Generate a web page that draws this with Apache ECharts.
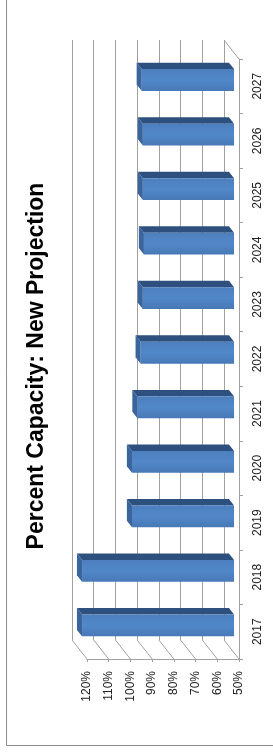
<!DOCTYPE html>
<html>
<head>
<meta charset="utf-8">
<script src="https://cdn.jsdelivr.net/npm/echarts@6/dist/echarts.min.js"></script>
<style>
  html, body { margin: 0; padding: 0; background: #fff; }
  #myChart { width: 273px; height: 752px; }
</style>
</head>
<body>
<div id="myChart"></div>
<script>
  // categories (bottom to top after rotation)
  const years = ['2017', '2018', '2019', '2020', '2021', '2022', '2023', '2024', '2025', '2026', '2027'];
  // percent capacity
  const capacity = [120, 120, 97, 97, 94.5, 93, 92, 91.5, 92, 92, 92.5];
  // value axis ticks
  const valueTicks = [50, 60, 70, 80, 90, 100, 110, 120];

  const titleText = 'Percent Capacity: New Projection';
  const FONT = 'Liberation Sans';
  // 3d depth vector, front -> back
  const DX = -15, DY = -19;

  const chart = echarts.init(document.getElementById('myChart'));

  function renderBar(params, api) {
    const v = api.value(0);
    const idx = api.value(1);
    const base = api.coord([valueTicks[0], idx]);
    const end = api.coord([v, idx]);
    const band = api.size([0, 1])[1];
    const h = band * 0.4;
    const f = 0.33, g = 0.67;
    const x0 = end[0] + DX * f, x1 = base[0] + DX * f;
    const y0 = base[1] - h / 2 + DY * f, y1 = base[1] + h / 2 + DY * f;
    const bx = DX * (g - f), by = DY * (g - f);
    return {
      type: 'group',
      children: [
        {
          type: 'polygon',
          shape: { points: [[x0, y0], [x1, y0], [x1 + bx, y0 + by], [x0 + bx, y0 + by]] },
          style: { fill: '#2e507e' }
        },
        {
          type: 'polygon',
          shape: { points: [[x0, y0], [x0 + bx, y0 + by], [x0 + bx, y1 + by], [x0, y1]] },
          style: { fill: '#3a649c' }
        },
        {
          type: 'rect',
          shape: { x: x0, y: y0, width: x1 - x0, height: y1 - y0 },
          style: {
            fill: new echarts.graphic.LinearGradient(0, 0, 0, 1, [
              { offset: 0, color: '#4d7fbe' },
              { offset: 0.5, color: '#5288c8' },
              { offset: 1, color: '#4878b6' }
            ])
          }
        }
      ]
    };
  }

  // side wall diagonals + floor top edge
  function renderFrame(params, api) {
    const v = api.value(0);
    const band = api.size([0, 1])[1];
    const p = api.coord([v, 0]);
    const yb = p[1] + band / 2;
    const lineStyle = { stroke: '#a0a0a0', lineWidth: 1 };
    const children = [{
      type: 'line',
      shape: { x1: p[0], y1: yb, x2: p[0] + DX, y2: yb + DY },
      style: lineStyle
    }];
    if (v === valueTicks[0]) {
      const q = api.coord([v, years.length - 1]);
      const yt = q[1] - band / 2;
      children.push({
        type: 'line',
        shape: { x1: q[0], y1: yt, x2: q[0] + DX, y2: yt + DY },
        style: lineStyle
      });
    }
    return { type: 'group', children: children };
  }

  const option = {
    animation: false,
    grid: [
      { left: 87, right: 34, top: 59, bottom: 93 },
      { left: 72, right: 49, top: 40, bottom: 112 }
    ],
    xAxis: [
      {
        type: 'value',
        gridIndex: 0,
        min: 50, max: 120, interval: 10,
        inverse: true,
        position: 'bottom',
        axisLine: { show: true, lineStyle: { color: '#a0a0a0' } },
        axisTick: { show: true, length: 3, lineStyle: { color: '#a0a0a0' } },
        axisLabel: {
          rotate: 90, margin: 12,
          formatter: '{value}%',
          color: '#222', fontFamily: FONT, fontSize: 12
        },
        splitLine: { show: false }
      },
      {
        type: 'value',
        gridIndex: 1,
        min: 50, max: 120, interval: 10,
        inverse: true,
        axisLine: { show: false },
        axisTick: { show: false },
        axisLabel: { show: false },
        splitLine: { show: true, lineStyle: { color: '#a0a0a0', width: 1 } }
      }
    ],
    yAxis: [
      {
        type: 'category',
        gridIndex: 0,
        data: years,
        position: 'right',
        axisLine: { show: true, lineStyle: { color: '#a0a0a0' } },
        axisTick: { show: true, length: 4, lineStyle: { color: '#a0a0a0' } },
        axisLabel: {
          rotate: 90, margin: 13,
          color: '#222', fontFamily: FONT, fontSize: 12
        },
        splitLine: { show: false }
      },
      {
        type: 'category',
        gridIndex: 1,
        data: years,
        show: false
      }
    ],
    graphic: [
      {
        type: 'rect',
        shape: { x: 6.5, y: -10, width: 300, height: 755.5 },
        style: { fill: 'none', stroke: '#8c8c8c', lineWidth: 1 },
        silent: true
      },
      {
        type: 'text',
        x: 37, y: 366,
        rotation: Math.PI / 2,
        style: {
          text: titleText,
          font: 'bold 23px "' + FONT + '"',
          fill: '#000',
          textAlign: 'center',
          textVerticalAlign: 'middle'
        }
      }
    ],
    series: [
      {
        type: 'custom',
        name: 'frame',
        xAxisIndex: 0, yAxisIndex: 0,
        renderItem: renderFrame,
        data: valueTicks.map(v => [v, 0]),
        encode: { x: 0, y: 1 },
        silent: true,
        z: 1
      },
      {
        type: 'custom',
        name: 'Percent Capacity',
        xAxisIndex: 0, yAxisIndex: 0,
        renderItem: renderBar,
        data: capacity.map((v, i) => [v, i]),
        encode: { x: 0, y: 1 },
        z: 3
      }
    ]
  };
  chart.setOption(option);
</script>
</body>
</html>
